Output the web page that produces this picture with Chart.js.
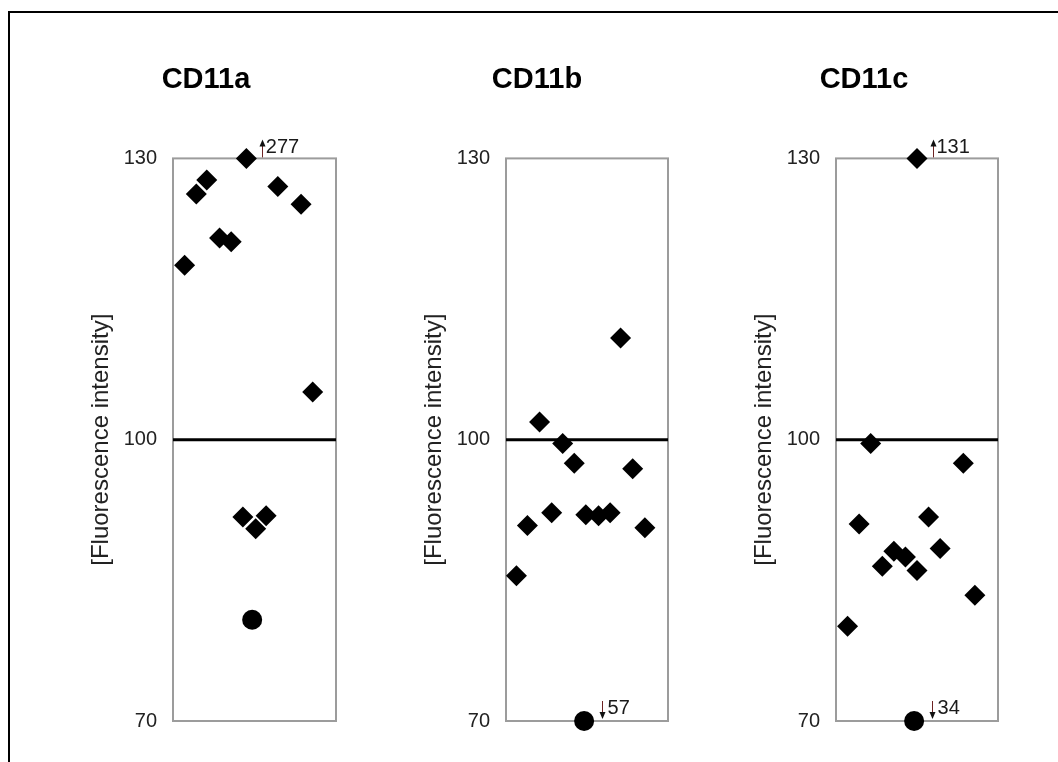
<!DOCTYPE html>
<html>
<head>
<meta charset="utf-8">
<title>CD11 fluorescence intensity</title>
<script src="https://cdn.jsdelivr.net/npm/chart.js@4.4.1/dist/chart.umd.min.js"></script>
<style>
  html, body { margin: 0; padding: 0; background: #fff; width: 1058px; height: 762px; overflow: hidden; }
  #frame { position: absolute; left: 8px; top: 11px; width: 1200px; height: 900px;
           border-left: 2px solid #000; border-top: 2px solid #000; }
  canvas { position: absolute; top: 40px; }
</style>
</head>
<body>
<div id="frame"></div>
<canvas id="c0" width="306" height="722" style="left:53px"></canvas>
<canvas id="c1" width="302" height="722" style="left:386px"></canvas>
<canvas id="c2" width="296" height="722" style="left:716px"></canvas>
<script>
// Panel titles
const categories = ['CD11a', 'CD11b', 'CD11c'];

// Axis range and tick labels (values beyond the range are pinned to the edge and labelled)
const yMin = 70, yMax = 130;
const yTicks = [70, 100, 130];
const refLevel = 100;
const xMin = 0, xMax = 14;

// CD11a
const cd11aX = [1, 2, 2.9, 4, 5, 6.3, 9, 11, 12, 6, 7.1, 8];
const cd11aY = [118.6, 126.2, 127.7, 121.5, 121.1, 277, 127.0, 125.1, 105.1, 91.75, 90.5, 91.9];
const cd11aCircleX = [6.8];
const cd11aCircleY = [80.8];

// CD11b
const cd11bX = [0.9, 1.85, 2.9, 3.95, 4.9, 5.9, 6.9, 8.0, 9.0, 9.9, 10.95, 12.0];
const cd11bY = [85.5, 90.85, 101.9, 92.2, 99.6, 97.5, 92.0, 91.9, 92.2, 110.85, 96.9, 90.6];
const cd11bCircleX = [6.75];
const cd11bCircleY = [57];

// CD11c
const cd11cX = [1, 2, 3, 4, 5, 6, 7, 7, 8, 9, 11, 12];
const cd11cY = [80.1, 91.0, 99.6, 86.5, 88.1, 87.5, 131, 86.05, 91.75, 88.4, 97.5, 83.4];
const cd11cCircleX = [6.75];
const cd11cCircleY = [34];

const panels = [
  { id: 'c0', title: categories[0], dx: cd11aX, dy: cd11aY, cx: cd11aCircleX, cy: cd11aCircleY, rightGap: 23 },
  { id: 'c1', title: categories[1], dx: cd11bX, dy: cd11bY, cx: cd11bCircleX, cy: cd11bCircleY, rightGap: 20 },
  { id: 'c2', title: categories[2], dx: cd11cX, dy: cd11cY, cx: cd11cCircleX, cy: cd11cCircleY, rightGap: 14 }
];

const FONT = "'Liberation Sans', Arial, sans-serif";

// Pin out-of-range values to the axis edge, keeping the true value for the label
function toPoints(xs, ys) {
  return xs.map((x, i) => ({ x: x, y: Math.min(yMax, Math.max(yMin, ys[i])), value: ys[i] }));
}

// Grey frame around the plotting area
const boxPlugin = {
  id: 'plotBox',
  beforeDatasetsDraw(chart) {
    const a = chart.chartArea, ctx = chart.ctx;
    ctx.save();
    ctx.strokeStyle = '#9c9c9c';
    ctx.lineWidth = 2;
    ctx.strokeRect(a.left, a.top, a.right - a.left, a.bottom - a.top);
    ctx.restore();
  }
};

// Arrow + true value next to markers that lie beyond the axis range
const offScalePlugin = {
  id: 'offScale',
  afterDatasetsDraw(chart) {
    const ctx = chart.ctx;
    const ys = chart.scales.y;
    ctx.save();
    chart.data.datasets.forEach((ds, di) => {
      if (!ds.markers) return;
      const meta = chart.getDatasetMeta(di);
      ds.data.forEach((p, i) => {
        if (p.value <= yMax && p.value >= yMin) return;
        const el = meta.data[i];
        const up = p.value > yMax;
        const edge = ys.getPixelForValue(up ? yMax : yMin);
        const ax = Math.round(el.x + (up ? 15.5 : 17.5)) + 0.5;
        // arrow shaft
        const y0 = up ? edge - 1 : edge - 20;
        const y1 = up ? edge - 17 : edge - 4;
        ctx.strokeStyle = '#6e2424';
        ctx.lineWidth = 1;
        ctx.beginPath();
        ctx.moveTo(ax, y0);
        ctx.lineTo(ax, y1);
        ctx.stroke();
        // arrow head
        ctx.fillStyle = '#111';
        ctx.beginPath();
        if (up) {
          ctx.moveTo(ax, y1 - 2);
          ctx.lineTo(ax - 3, y1 + 5);
          ctx.lineTo(ax + 3, y1 + 5);
        } else {
          ctx.moveTo(ax, y1 + 2);
          ctx.lineTo(ax - 3, y1 - 5);
          ctx.lineTo(ax + 3, y1 - 5);
        }
        ctx.closePath();
        ctx.fill();
        // value
        ctx.font = '20px ' + FONT;
        ctx.fillStyle = '#1a1a1a';
        ctx.textAlign = 'left';
        ctx.textBaseline = 'alphabetic';
        ctx.fillText(String(p.value), el.x + (up ? 19.5 : 23.5), up ? edge - 5 : edge - 7);
      });
    });
    ctx.restore();
  }
};

panels.forEach(p => {
  new Chart(document.getElementById(p.id), {
    data: {
      datasets: [
        {
          type: 'scatter',
          markers: true,
          yAxisID: 'y',
          data: toPoints(p.dx, p.dy),
          pointStyle: 'rectRot',
          pointRadius: 10.5,
          pointBorderWidth: 0,
          backgroundColor: '#000',
          borderColor: '#000',
          clip: false,
          order: 1
        },
        {
          type: 'scatter',
          markers: true,
          yAxisID: 'y',
          data: toPoints(p.cx, p.cy),
          pointStyle: 'circle',
          pointRadius: 10,
          pointBorderWidth: 0,
          backgroundColor: '#000',
          borderColor: '#000',
          clip: false,
          order: 1
        },
        {
          type: 'line',
          yAxisID: 'y',
          data: [{ x: xMin, y: refLevel }, { x: xMax, y: refLevel }],
          borderColor: '#000',
          borderWidth: 3,
          pointRadius: 0,
          order: 3
        }
      ]
    },
    options: {
      responsive: false,
      animation: false,
      events: [],
      layout: { padding: { left: 0, right: 0, top: 0, bottom: 41 } },
      plugins: {
        legend: { display: false },
        tooltip: { enabled: false },
        title: {
          display: true,
          text: p.title,
          color: '#000',
          font: { family: FONT, size: 29, weight: 'bold', lineHeight: 1.2 },
          padding: { top: 22.6, bottom: 61.0 }
        }
      },
      scales: {
        x: { type: 'linear', min: xMin, max: xMax, display: false },
        y: {
          type: 'linear',
          position: 'left',
          min: yMin,
          max: yMax,
          afterBuildTicks(scale) { scale.ticks = yTicks.map(v => ({ value: v })); },
          afterFit(scale) { scale.width = 120; },
          grid: { display: false, drawTicks: false },
          border: { display: false },
          ticks: {
            padding: 16,
            color: '#222',
            font: { family: FONT, size: 20 }
          },
          title: {
            display: true,
            text: '[Fluorescence intensity]',
            color: '#222',
            font: { family: FONT, size: 24, lineHeight: 1.2 },
            padding: { top: 34, bottom: 0 }
          }
        },
        // empty spacer on the right so the title sits over the panel
        yR: {
          type: 'linear',
          position: 'right',
          min: yMin,
          max: yMax,
          afterFit(scale) { scale.width = p.rightGap; },
          grid: { display: false, drawTicks: false },
          border: { display: false },
          ticks: { display: false }
        }
      }
    },
    plugins: [boxPlugin, offScalePlugin]
  });
});
</script>
</body>
</html>
